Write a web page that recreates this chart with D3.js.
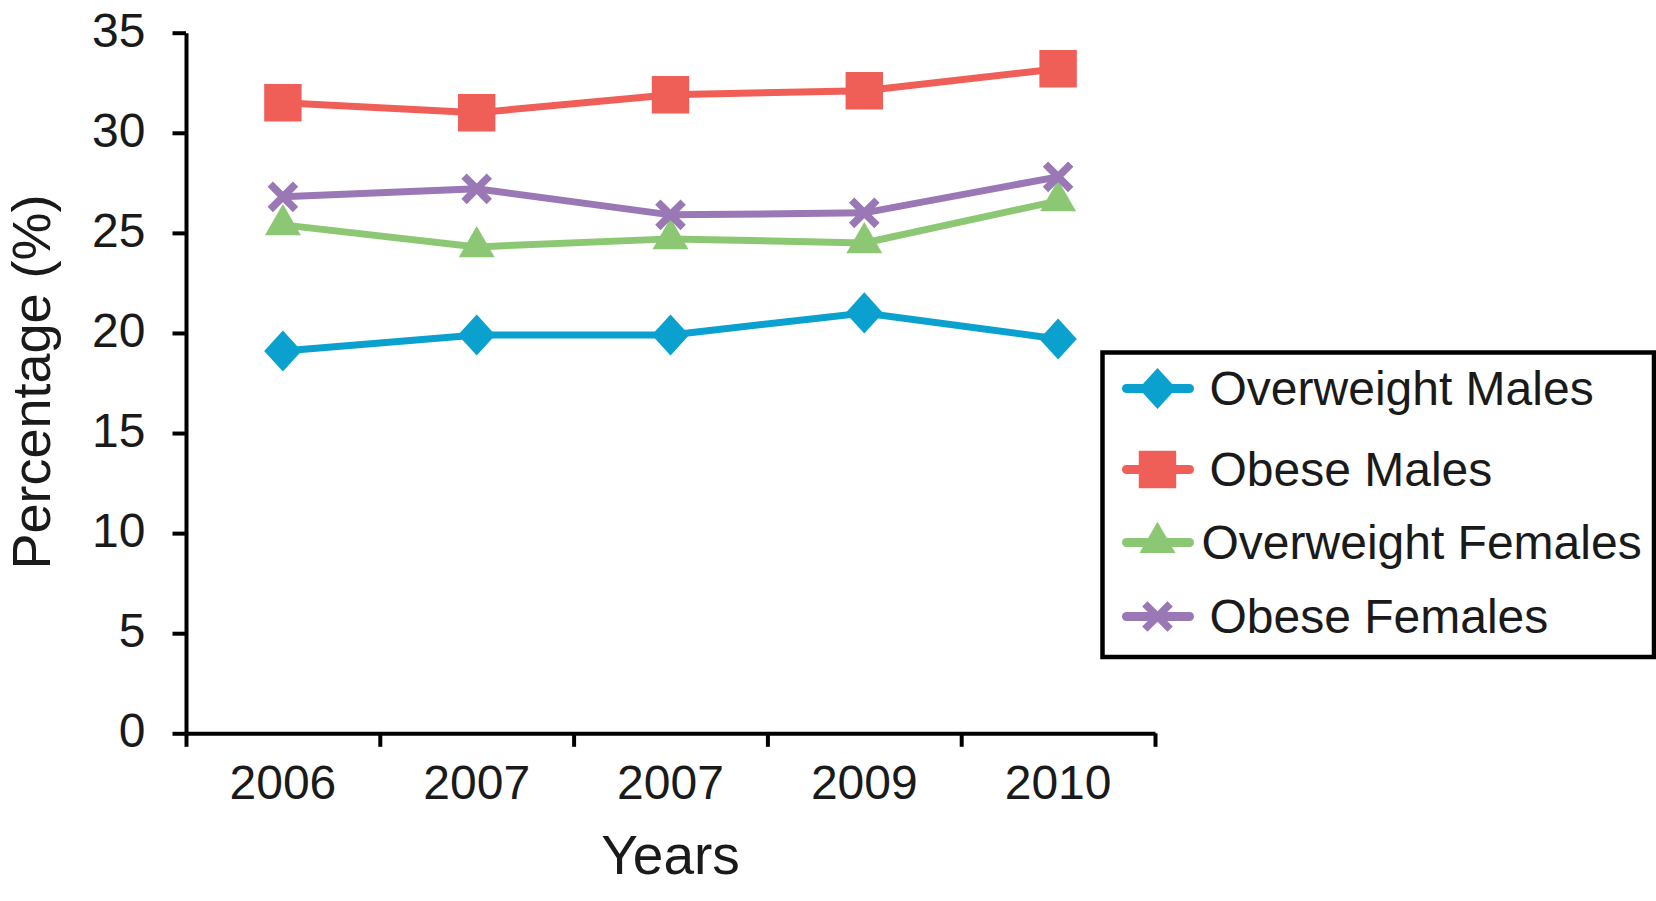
<!DOCTYPE html>
<html>
<head>
    <script src="https://d3js.org/d3.v7.min.js"></script>
    <style>
        body { margin: 0; background: #fff; }
        text { font-family: "Liberation Sans", Arial, sans-serif; fill: #1a1a1a; }
    </style>
</head>
<body>
<svg id="chart" width="1656" height="901"></svg>
<script>
    // Data
    var years = ["2006", "2007", "2007", "2009", "2010"];
    var seriesNames = ["Overweight Males", "Obese Males", "Overweight Females", "Obese Females"];
    var overweightMales = [19.1, 19.9, 19.9, 21.0, 19.7];
    var obeseMales = [31.5, 31.0, 31.9, 32.1, 33.2];
    var overweightFemales = [25.4, 24.3, 24.7, 24.5, 26.6];
    var obeseFemales = [26.8, 27.2, 25.9, 26.0, 27.8];
    var yTicks = [0, 5, 10, 15, 20, 25, 30, 35];

    var seriesValues = [overweightMales, obeseMales, overweightFemales, obeseFemales];
    var colors = ["#0aa1cf", "#ef5f58", "#8cc874", "#9a78b6"];

    // custom fat diamond (d3's symbolDiamond is too narrow)
    var fatDiamond = {
        draw: function (context, size) {
            var w = Math.sqrt(size) * 0.5, h = Math.sqrt(size) * 0.55;
            context.moveTo(0, -h);
            context.lineTo(w, 0);
            context.lineTo(0, h);
            context.lineTo(-w, 0);
            context.closePath();
        }
    };
    var markers = [
        { type: fatDiamond, size: 1400, stroke: false },
        { type: d3.symbolSquare, size: 1400, stroke: false },
        { type: d3.symbolTriangle, size: 560, stroke: false },
        { type: d3.symbolX, size: 420, stroke: true }
    ];

    var margin = { top: 32.7, left: 186, right: 501, bottom: 167.7 },
        width = 1656 - margin.left - margin.right,
        height = 901 - margin.top - margin.bottom;

    var svg = d3.select("#chart")
        .append("g")
        .attr("transform", "translate(" + margin.left + "," + margin.top + ")");

    var x = d3.scaleBand()
        .domain(d3.range(years.length))
        .range([0, width]);
    var xEdge = d3.scaleLinear()
        .domain([0, years.length])
        .range([0, width]);
    var y = d3.scaleLinear()
        .domain([0, 35])
        .range([height, 0]);

    // Y axis
    var yAxis = svg.append("g")
        .call(d3.axisLeft(y).tickValues(yTicks).tickSize(13.5).tickSizeOuter(0).tickPadding(27));
    yAxis.selectAll("text").style("font-size", "48px").attr("dy", "0.28em");

    // X axis: ticks on category edges, labels at centres
    svg.append("g")
        .attr("transform", "translate(0," + height + ")")
        .call(d3.axisBottom(xEdge).tickValues(d3.range(years.length + 1)).tickFormat("").tickSize(13.5).tickSizeOuter(0));
    var xLabels = svg.append("g")
        .attr("transform", "translate(0," + height + ")")
        .call(d3.axisBottom(x).tickFormat(function (i) { return years[i]; }).tickSize(0).tickPadding(32));
    xLabels.select(".domain").remove();
    xLabels.selectAll("text").style("font-size", "48px");

    svg.selectAll(".domain, .tick line")
        .attr("stroke", "#000")
        .attr("stroke-width", 4);

    // axis titles
    svg.append("text")
        .attr("text-anchor", "middle")
        .attr("x", width / 2)
        .attr("y", height + 141)
        .style("font-size", "55px")
        .text("Years");
    svg.append("text")
        .attr("text-anchor", "middle")
        .attr("transform", "rotate(-90)")
        .attr("x", -(382 - margin.top))
        .attr("y", -margin.left + 50)
        .style("font-size", "54px")
        .text("Percentage (%)");

    // lines and markers
    var line = d3.line()
        .x(function (d, i) { return x(i) + x.bandwidth() / 2; })
        .y(function (d) { return y(d); });

    var drawOrder = [0, 2, 3, 1];
    drawOrder.forEach(function (s) {
        svg.append("path")
            .datum(seriesValues[s])
            .attr("fill", "none")
            .attr("stroke", colors[s])
            .attr("stroke-width", 7)
            .attr("d", line);
    });
    drawOrder.forEach(function (s) {
        var m = markers[s];
        svg.selectAll(".m" + s)
            .data(seriesValues[s])
            .enter()
            .append("path")
            .attr("class", "m" + s)
            .attr("transform", function (d, i) {
                return "translate(" + (x(i) + x.bandwidth() / 2) + "," + y(d) + ")";
            })
            .attr("d", d3.symbol().type(m.type).size(m.size))
            .attr("fill", m.stroke ? "none" : colors[s])
            .attr("stroke", m.stroke ? colors[s] : "none")
            .attr("stroke-width", m.stroke ? 7.5 : 0);
    });

    // Legend
    var legend = d3.select("#chart").append("g")
        .attr("transform", "translate(1102.5,352.5)");
    legend.append("rect")
        .attr("width", 551.5)
        .attr("height", 304.5)
        .attr("fill", "#fff")
        .attr("stroke", "#000")
        .attr("stroke-width", 4.5);
    var rowY = [36, 117, 190, 264];
    seriesNames.forEach(function (name, s) {
        var g = legend.append("g")
            .attr("transform", "translate(0," + rowY[s] + ")");
        g.append("line")
            .attr("x1", 24).attr("x2", 87)
            .attr("stroke", colors[s])
            .attr("stroke-width", 9)
            .attr("stroke-linecap", "round");
        var m = markers[s];
        g.append("path")
            .attr("transform", "translate(55,0)")
            .attr("d", d3.symbol().type(m.type).size(m.size))
            .attr("fill", m.stroke ? "none" : colors[s])
            .attr("stroke", m.stroke ? colors[s] : "none")
            .attr("stroke-width", m.stroke ? 7.5 : 0);
        g.append("text")
            .attr("x", s === 2 ? 99 : 107)
            .attr("dy", "0.35em")
            .style("font-size", "48px")
            .text(name);
    });
</script>
</body>
</html>
